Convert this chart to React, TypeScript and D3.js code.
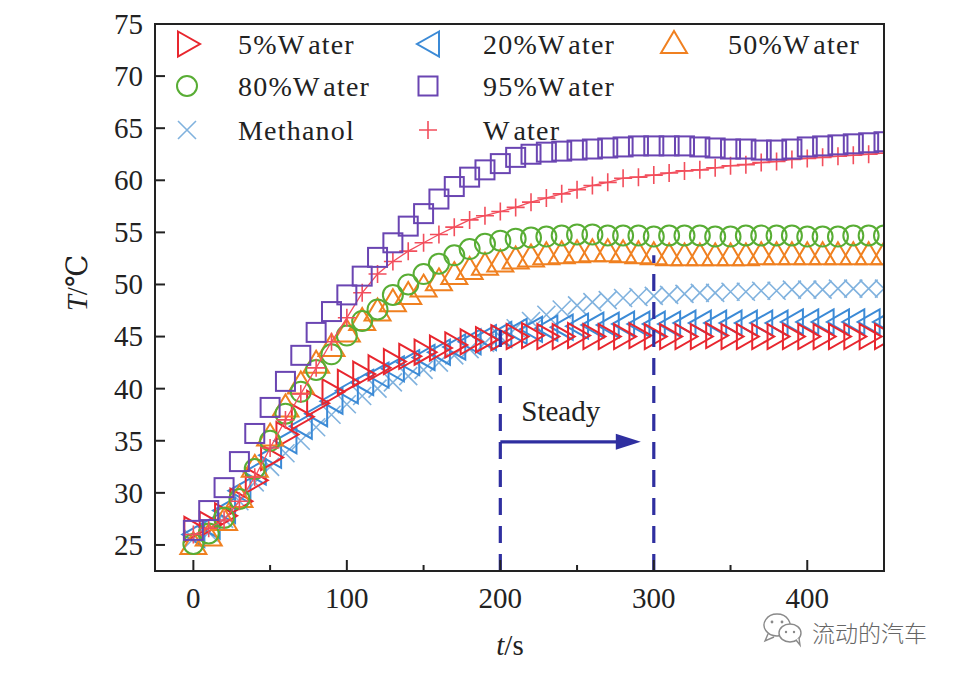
import React from 'react';
import * as d3 from 'd3';

// ---- data ----
const times = [0, 10, 20, 30, 40, 50, 60, 70, 80, 90, 100, 110, 120, 130, 140, 150, 160, 170, 180, 190, 200, 210, 220, 230, 240, 250, 260, 270, 280, 290, 300, 310, 320, 330, 340, 350, 360, 370, 380, 390, 400, 410, 420, 430, 440, 450];

const water5 = [26.5, 27.0, 27.8, 29.2, 31.2, 33.4, 35.6, 37.3, 38.6, 39.7, 40.6, 41.4, 42.0, 42.6, 43.1, 43.5, 43.9, 44.2, 44.5, 44.7, 44.9, 45.0, 45.1, 45.0, 45.0, 45.1, 45.0, 45.0, 45.0, 45.1, 45.0, 45.0, 45.0, 45.0, 45.1, 45.0, 45.0, 45.0, 45.0, 45.0, 45.0, 45.0, 45.0, 45.0, 45.0, 45.0];
const water20 = [26.0, 26.8, 28.3, 30.2, 32.0, 33.6, 35.0, 36.4, 37.6, 38.8, 39.8, 40.6, 41.3, 41.9, 42.5, 43.0, 43.5, 44.0, 44.5, 44.9, 45.2, 45.5, 45.7, 45.8, 45.9, 46.0, 46.1, 46.1, 46.2, 46.2, 46.2, 46.2, 46.3, 46.3, 46.3, 46.3, 46.3, 46.3, 46.3, 46.4, 46.4, 46.4, 46.4, 46.4, 46.4, 46.4];
const water50 = [25.0, 25.8, 27.3, 29.5, 32.4, 35.4, 38.2, 40.4, 42.4, 44.0, 45.4, 46.5, 47.4, 48.3, 49.0, 49.7, 50.3, 50.9, 51.4, 51.8, 52.1, 52.4, 52.6, 52.8, 52.9, 53.0, 53.1, 53.1, 53.0, 52.9, 52.8, 52.7, 52.7, 52.7, 52.7, 52.7, 52.7, 52.8, 52.8, 52.8, 52.8, 52.8, 52.8, 52.8, 52.8, 52.8];
const water80 = [25.1, 26.1, 27.6, 29.4, 32.3, 35.0, 37.6, 39.7, 41.8, 43.3, 45.1, 46.5, 47.6, 49.0, 50.0, 51.0, 52.0, 52.8, 53.4, 53.9, 54.2, 54.4, 54.5, 54.6, 54.7, 54.8, 54.8, 54.7, 54.7, 54.7, 54.6, 54.7, 54.7, 54.7, 54.6, 54.6, 54.7, 54.7, 54.7, 54.7, 54.6, 54.6, 54.6, 54.7, 54.7, 54.7];
const water95 = [26.4, 28.3, 30.5, 33.0, 35.7, 38.2, 40.7, 43.2, 45.4, 47.4, 49.0, 50.8, 52.6, 54.0, 55.6, 56.8, 58.2, 59.4, 60.3, 61.0, 61.6, 62.2, 62.5, 62.7, 62.8, 62.9, 63.0, 63.1, 63.2, 63.3, 63.3, 63.3, 63.3, 63.2, 63.1, 63.0, 63.0, 62.9, 62.9, 63.0, 63.2, 63.3, 63.4, 63.5, 63.6, 63.7];
const methanol = [25.6, 26.2, 27.5, 29.2, 31.0, 32.5, 33.8, 35.0, 36.3, 37.5, 38.5, 39.3, 40.0, 40.6, 41.2, 41.8, 42.5, 43.2, 43.8, 44.4, 45.0, 45.8, 46.5, 47.1, 47.6, 48.0, 48.3, 48.5, 48.7, 48.8, 48.9, 49.0, 49.1, 49.2, 49.2, 49.3, 49.3, 49.4, 49.4, 49.5, 49.5, 49.5, 49.6, 49.6, 49.6, 49.6];
const water = [26.0, 26.6, 27.4, 29.2, 31.5, 34.3, 37.0, 39.5, 42.0, 44.5, 46.8, 49.2, 51.0, 52.2, 53.2, 54.0, 54.8, 55.5, 56.2, 56.6, 57.0, 57.4, 57.9, 58.3, 58.7, 59.1, 59.5, 59.8, 60.2, 60.3, 60.5, 60.7, 60.9, 61.0, 61.2, 61.4, 61.5, 61.7, 61.8, 62.0, 62.1, 62.2, 62.3, 62.4, 62.5, 62.6];

const seriesNames = ['5%Water', '20%Water', '50%Water', '80%Water', '95%Water', 'Methanol', 'Water'];
const yTicks = [25, 30, 35, 40, 45, 50, 55, 60, 65, 70, 75];
const xTicks = [0, 100, 200, 300, 400];
const xMinorTicks = [50, 150, 250, 350];
const steadyStart = 200;
const steadyEnd = 300;
const steadyLabel = 'Steady';

// ---- styling ----
type MarkerKind = 'right' | 'left' | 'up' | 'circle' | 'square' | 'x' | 'plus';
const styles: { [k: string]: { color: string; marker: MarkerKind; line: boolean } } = {
  '5%Water': { color: '#e8262e', marker: 'right', line: false },
  '20%Water': { color: '#3b8ad6', marker: 'left', line: false },
  '50%Water': { color: '#f08020', marker: 'up', line: false },
  '80%Water': { color: '#58ad34', marker: 'circle', line: false },
  '95%Water': { color: '#6a45b2', marker: 'square', line: false },
  Methanol: { color: '#80b2de', marker: 'x', line: false },
  Water: { color: '#f24e5c', marker: 'plus', line: true },
};
const seriesValues: { [k: string]: number[] } = {
  '5%Water': water5,
  '20%Water': water20,
  '50%Water': water50,
  '80%Water': water80,
  '95%Water': water95,
  Methanol: methanol,
  Water: water,
};
const drawOrder = ['Methanol', '20%Water', '5%Water', '50%Water', '80%Water', 'Water', '95%Water'];
const legendSlots: { [k: string]: [number, number] } = {
  '5%Water': [0, 0],
  '20%Water': [1, 0],
  '50%Water': [2, 0],
  '80%Water': [0, 1],
  '95%Water': [1, 1],
  Methanol: [0, 2],
  Water: [1, 2],
};

const W = 962;
const H = 674;
const left = 155, right = 884, top = 24, bottom = 571;
const serif = '"Liberation Serif", "Times New Roman", "DejaVu Serif", serif';
const ink = '#222';
const steadyColor = '#2f2fa0';

const x = d3.scaleLinear().domain([-25, 450]).range([left, right]);
const y = d3.scaleLinear().domain([22.5, 75]).range([bottom, top]);

function Marker({ kind, color, cx, cy }: { kind: MarkerKind; color: string; cx: number; cy: number }) {
  const common = { fill: 'none', stroke: color, strokeWidth: 2 } as any;
  const t = `translate(${cx},${cy})`;
  switch (kind) {
    case 'right':
      return <path transform={t} d="M-9,-12.5L13,0L-9,12.5Z" {...common} />;
    case 'left':
      return <path transform={t} d="M11,-12.5L-11,0L11,12.5Z" {...common} />;
    case 'up':
      return <path transform={t} d="M0,-13L13,9L-13,9Z" {...common} />;
    case 'circle':
      return <circle transform={t} r={10} {...common} />;
    case 'square':
      return <rect transform={t} x={-9.5} y={-9.5} width={19} height={19} {...common} />;
    case 'x':
      return <path transform={t} d="M-9,-9L9,9M-9,9L9,-9" {...common} strokeWidth={1.6} />;
    case 'plus':
      return <path transform={t} d="M-9,0L9,0M0,-9L0,9" {...common} strokeWidth={1.6} />;
  }
  return null;
}

function LegendLabel({ name }: { name: string }) {
  const idx = name.indexOf('Water');
  if (idx < 0) return <>{name}</>;
  return (
    <>
      {name.slice(0, idx)}W<tspan dx={5}>ater</tspan>
    </>
  );
}

export default function App() {
  const lineGen = d3
    .line<number>()
    .x((_, i) => x(times[i]))
    .y((d) => y(d));

  const legendCols = [238, 483, 728];
  const legendMarkerCols = [187, 428, 674];
  const legendRows = [44, 86, 130];

  return (
    <svg
      width={W}
      height={H}
      viewBox={`0 0 ${W} ${H}`}
      style={{ position: 'absolute', left: 0, top: 0, background: '#fff' }}
      fontFamily={serif}
    >
      <defs>
        <clipPath id="plotClip">
          <rect x={left} y={top} width={right - left} height={bottom - top} />
        </clipPath>
      </defs>
      <rect x={0} y={0} width={W} height={H} fill="#fff" />

      {/* series */}
      <g clipPath="url(#plotClip)">
        {drawOrder.map((name) => {
          const s = styles[name];
          const vals = seriesValues[name];
          return (
            <g key={name}>
              {s.line && <path d={lineGen(vals) || ''} fill="none" stroke={s.color} strokeWidth={1.3} />}
              {vals.map((v, i) => (
                <Marker key={i} kind={s.marker} color={s.color} cx={x(times[i])} cy={y(v)} />
              ))}
            </g>
          );
        })}
      </g>

      {/* steady annotation */}
      <g stroke={steadyColor} strokeWidth={3.2} fill="none">
        <line x1={x(steadyStart)} x2={x(steadyStart)} y1={bottom} y2={y(45.9)} strokeDasharray="17,11" />
        <line x1={x(steadyEnd)} x2={x(steadyEnd)} y1={bottom} y2={y(52.8)} strokeDasharray="17,11" />
        <line x1={x(steadyStart)} x2={x(steadyEnd) - 30} y1={y(34.9)} y2={y(34.9)} />
      </g>
      <path
        d={`M${x(steadyEnd) - 13},${y(34.9)}L${x(steadyEnd) - 38},${y(34.9) - 8}L${x(steadyEnd) - 38},${y(34.9) + 8}Z`}
        fill={steadyColor}
      />
      <text x={x(steadyStart) + 21} y={y(36.9)} fontSize={29} fill={ink}>
        {steadyLabel}
      </text>

      {/* frame */}
      <rect x={left} y={top} width={right - left} height={bottom - top} fill="none" stroke={ink} strokeWidth={2} />

      {/* y axis */}
      {yTicks.map((t) => (
        <g key={t}>
          <line x1={left} x2={left + 10} y1={y(t)} y2={y(t)} stroke={ink} strokeWidth={2} />
          <text x={143} y={y(t)} dy="0.34em" textAnchor="end" fontSize={29} fill={ink}>
            {t}
          </text>
        </g>
      ))}
      {/* x axis */}
      {xTicks.map((t) => (
        <g key={t}>
          <line x1={x(t)} x2={x(t)} y1={bottom} y2={bottom - 11} stroke={ink} strokeWidth={2} />
          <text x={x(t)} y={608} textAnchor="middle" fontSize={29} fill={ink}>
            {t}
          </text>
        </g>
      ))}
      {xMinorTicks.map((t) => (
        <line key={t} x1={x(t)} x2={x(t)} y1={bottom} y2={bottom - 6} stroke={ink} strokeWidth={2} />
      ))}

      {/* axis titles */}
      <text transform="translate(87,283) rotate(-90)" textAnchor="middle" fontSize={29} fill={ink}>
        <tspan fontStyle="italic">T</tspan>/℃
      </text>
      <text x={510} y={655} textAnchor="middle" fontSize={29} fill={ink}>
        <tspan fontStyle="italic">t</tspan>/s
      </text>

      {/* legend */}
      {seriesNames.map((name) => {
        const s = styles[name];
        const [colIdx, rowIdx] = legendSlots[name];
        return (
          <g key={name}>
            <Marker kind={s.marker} color={s.color} cx={legendMarkerCols[colIdx]} cy={legendRows[rowIdx]} />
            <text x={legendCols[colIdx]} y={legendRows[rowIdx] + 10} fontSize={28} letterSpacing={1.2} fill={ink}>
              <LegendLabel name={name} />
            </text>
          </g>
        );
      })}

      {/* watermark */}
      <g stroke="#8a8a8a" strokeWidth={1.4} fill="#fff">
        <path d="M777,614 a13,11 0 1,0 0.1,0 Z" />
        <path d="M768,634 l-3,7 l9,-4" fill="none" />
        <ellipse cx={790} cy={633} rx={11} ry={9} />
        <path d="M796,640 l4,5 l-1,-7" />
      </g>
      <g fill="#8a8a8a">
        <circle cx={772} cy={622} r={1.4} />
        <circle cx={782} cy={622} r={1.4} />
        <circle cx={786} cy={632} r={1.2} />
        <circle cx={794} cy={632} r={1.2} />
      </g>
      <text x={812} y={642} fontSize={23} fill="#666" fontFamily='"Noto Sans CJK SC", sans-serif' fontWeight={300}>
        流动的汽车
      </text>
    </svg>
  );
}
